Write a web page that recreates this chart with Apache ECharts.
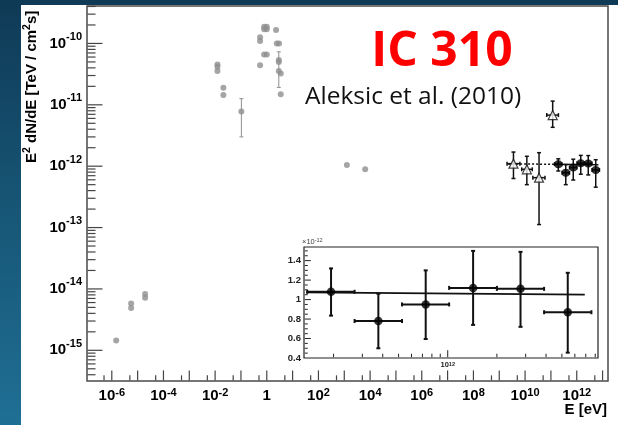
<!DOCTYPE html>
<html>
<head>
<meta charset="utf-8">
<script src="https://cdn.jsdelivr.net/npm/echarts@6/dist/echarts.min.js"></script>
<style>
  html, body { margin: 0; padding: 0; }
  #page {
    position: relative; width: 618px; height: 425px; overflow: hidden;
    background: linear-gradient(180deg, #0f3a56 0%, #175676 50%, #1f6f94 100%);
  }
  #paper { position: absolute; left: 21px; top: 5px; right: 0; bottom: 0; background: #ffffff; }
  #chart { position: absolute; left: 0; top: 0; width: 618px; height: 425px; }
</style>
</head>
<body>
<div id="page"><div id="paper"></div><div id="chart"></div></div>
<script>
// ---------- archival multi-wavelength points (E in eV, E^2 dN/dE in TeV cm^-2 s^-1) ----------
const grayE = [1.48e-6, 5.6e-6, 5.6e-6, 1.95e-5, 1.95e-5,
               0.0123, 0.0123, 0.0123, 0.0209, 0.0209, 0.104,
               0.55, 0.55, 0.55, 0.79, 1.0, 0.79, 1.0, 0.79, 1.0,
               2.29, 2.44, 2.99, 2.92, 2.92, 2.92, 3.47, 3.47,
               1259, 6460];
const grayF = [1.45e-15, 5.8e-15, 4.9e-15, 8.3e-15, 7.2e-15,
               4.55e-11, 4.16e-11, 3.57e-11, 1.9e-11, 1.45e-11, 7.8e-12,
               1.26e-10, 1.10e-10, 4.42e-11, 1.87e-10, 1.87e-10, 1.70e-10, 1.70e-10, 6.6e-11, 6.6e-11,
               1.65e-10, 1.0e-10, 1.0e-10, 5.35e-11, 5.0e-11, 3.57e-11, 3.24e-11, 1.49e-11,
               1.05e-12, 8.9e-13];
// archival points that carry error bars
const grayErrE  = [0.104, 2.92];
const grayErrF  = [7.8e-12, 3.57e-11];
const grayErrLo = [3.0e-12, 1.92e-11];
const grayErrHi = [1.26e-11, 7.3e-11];

// ---------- open triangles ----------
const triE   = [3.55e9, 1.17e10, 3.47e10, 1.17e11];
const triELo = [2.0e9, 7.4e9, 2.0e10, 6.9e10];
const triEHi = [6.3e9, 1.9e10, 5.9e10, 1.95e11];
const triF   = [1.10e-12, 8.9e-13, 6.5e-13, 6.8e-12];
const triFLo = [6.3e-13, 5.0e-13, 1.12e-13, 4.3e-12];
const triFHi = [1.70e-12, 1.45e-12, 1.66e-12, 1.15e-11];

// ---------- MAGIC spectrum (flux in units of 1e-12 TeV cm^-2 s^-1) ----------
const magicE   = [1.93e11, 3.76e11, 7.33e11, 1.43e12, 2.79e12, 5.43e12];
const magicELo = [1.38e11, 2.69e11, 5.25e11, 1.02e12, 2.00e12, 3.89e12];
const magicEHi = [2.69e11, 5.25e11, 1.02e12, 2.00e12, 3.89e12, 7.58e12];
const magicF   = [1.08, 0.78, 0.95, 1.12, 1.11, 0.87];
const magicFLo = [0.835, 0.50, 0.595, 0.74, 0.72, 0.455];
const magicFHi = [1.32, 1.06, 1.30, 1.50, 1.49, 1.275];
const fluxUnit = 1e-12;

// power-law fit and its extrapolation to lower energies (same flux units)
const fitE    = [1.36e11, 6.9e12];
const fitF    = [1.075, 1.051];
const fitExtE = [2.2e9, 1.36e11];
const fitExtF = [1.09, 1.075];

// ---------- axis labels ----------
const yLabelExp = [-15, -14, -13, -12, -11, -10];
const xLabelExp = [-6, -4, -2, 0, 2, 4, 6, 8, 10, 12, 13];
const insetYLabels = [0.4, 0.6, 0.8, 1, 1.2, 1.4];
const insetXLabelExp = [12];

// ---------- axis ranges (log10 of eV / flux) ----------
const X_MIN = -6.96, X_MAX = 13.21;
const Y_MIN = -15.5, Y_MAX = -9.39;
const IX_MIN = 11.12, IX_MAX = 12.92;
const IY_MIN = 0.4, IY_MAX = 1.54;

// ---------- tick marks as short segments in data space ----------
// rows share the error-bar layout: [x, y, yLow, yHigh, xLow, xHigh]
function hTick(x0, x1, y) { return [x0, y, y, y, x0, x1]; }   // tick on a vertical axis
function vTick(x, y0, y1) { return [x, y0, y0, y1, x, x]; }   // tick on a horizontal axis

const mainTicks = [];
const mx0 = X_MIN + 0.02, my0 = Y_MIN + 0.01;               // start just inside the frame
for (let n = -16; n <= -9; n++) {
  if (n >= Y_MIN && n <= Y_MAX) mainTicks.push(hTick(Math.pow(10, mx0), Math.pow(10, mx0 + 0.58), Math.pow(10, n)));
  for (let k = 2; k <= 9; k++) {
    const v = n + Math.log10(k);
    if (v > Y_MIN && v < Y_MAX) mainTicks.push(hTick(Math.pow(10, mx0), Math.pow(10, mx0 + 0.31), Math.pow(10, v)));
  }
}
for (let n = -7; n <= 13; n++) {
  if (n > X_MIN && n < X_MAX) mainTicks.push(vTick(Math.pow(10, n), Math.pow(10, my0), Math.pow(10, my0 + 0.163)));
  const v = n + Math.log10(5);
  if (v > X_MIN && v < X_MAX) mainTicks.push(vTick(Math.pow(10, v), Math.pow(10, my0), Math.pow(10, my0 + 0.082)));
}
const insetTicks = [];
const ix0 = IX_MIN + 0.005, iy0 = IY_MIN + 0.008;
for (let n = 11; n <= 12; n++) {
  for (let k = 1; k <= 9; k++) {
    const v = n + Math.log10(k);
    if (v > IX_MIN && v < IX_MAX) insetTicks.push(vTick(Math.pow(10, v), iy0, iy0 + (k === 1 ? 0.072 : 0.036)));
  }
}
for (let i = 1; i <= 22; i++) {
  const v = Math.round((0.4 + i * 0.05) * 100) / 100;
  if (v < IY_MAX) insetTicks.push(hTick(Math.pow(10, ix0), Math.pow(10, ix0 + (Math.round(v * 100) % 20 === 0 ? 0.037 : 0.018)), v));
}

// ---------- helpers ----------
const NARROW = "'Liberation Sans Narrow','Arial Narrow','Liberation Sans',Arial,sans-serif";
const SANS = "'Liberation Sans',Arial,sans-serif";
const TICK_COLOR = '#454545';

function errorBars(color, width, cap) {
  return function (params, api) {
    const x = api.value(0), y = api.value(1);
    const lo = api.value(2), hi = api.value(3), xl = api.value(4), xh = api.value(5);
    const top = api.coord([x, hi]), bot = api.coord([x, lo]);
    const style = { stroke: color, lineWidth: width };
    const kids = [];
    if (hi > lo) {
      kids.push({ type: 'line', shape: { x1: top[0], y1: top[1], x2: bot[0], y2: bot[1] }, style });
      if (cap > 0) {
        kids.push(
          { type: 'line', shape: { x1: top[0] - cap, y1: top[1], x2: top[0] + cap, y2: top[1] }, style },
          { type: 'line', shape: { x1: bot[0] - cap, y1: bot[1], x2: bot[0] + cap, y2: bot[1] }, style }
        );
      }
    }
    if (xh > xl) {
      const l = api.coord([xl, y]), r = api.coord([xh, y]);
      kids.push({ type: 'line', shape: { x1: l[0], y1: l[1], x2: r[0], y2: r[1] }, style });
      if (cap > 0) {
        kids.push(
          { type: 'line', shape: { x1: l[0], y1: l[1] - cap, x2: l[0], y2: l[1] + cap }, style },
          { type: 'line', shape: { x1: r[0], y1: r[1] - cap, x2: r[0], y2: r[1] + cap }, style }
        );
      }
    }
    return { type: 'group', children: kids };
  };
}

function supLabel(exp) {
  const n = Math.round(exp);
  return n === 0 ? '{b|1}' : '{b|10}{s|' + n + '}';
}

// ---------- data rows ----------
const grayData = grayE.map((e, i) => [e, grayF[i]]);
const grayErrData = grayErrE.map((e, i) => [e, grayErrF[i], grayErrLo[i], grayErrHi[i], e, e]);
const triData = triE.map((e, i) => [e, triF[i]]);
const triErrData = triE.map((e, i) => [e, triF[i], triFLo[i], triFHi[i], triELo[i], triEHi[i]]);
const magicMain = magicE.map((e, i) => [e, magicF[i] * fluxUnit]);
const magicMainErr = magicE.map((e, i) => [e, magicF[i] * fluxUnit, magicFLo[i] * fluxUnit, magicFHi[i] * fluxUnit, magicELo[i], magicEHi[i]]);
const magicInset = magicE.map((e, i) => [e, magicF[i]]);
const magicInsetErr = magicE.map((e, i) => [e, magicF[i], magicFLo[i], magicFHi[i], magicELo[i], magicEHi[i]]);

const chart = echarts.init(document.getElementById('chart'), null, { renderer: 'canvas' });

const noLine = { show: false, onZero: false };
const hidden = { show: false };
const option = {
  backgroundColor: 'transparent',
  animation: false,
  grid: [
    { left: 87, right: 10, top: 6, bottom: 44, show: true, borderColor: '#4a4a4a', borderWidth: 1.5, backgroundColor: 'transparent' },
    { left: 304, right: 20, top: 247, bottom: 67, show: true, borderColor: '#222', borderWidth: 1.2, backgroundColor: '#ffffff' }
  ],
  xAxis: [
    { type: 'log', gridIndex: 0, logBase: 10, min: Math.pow(10, X_MIN), max: Math.pow(10, X_MAX),
      axisLine: noLine, axisTick: hidden, axisLabel: hidden, splitLine: hidden },
    {
      type: 'value', gridIndex: 0, min: X_MIN, max: X_MAX, position: 'bottom',
      axisLine: noLine, splitLine: hidden, axisTick: hidden,
      axisLabel: {
        customValues: xLabelExp, margin: 6, formatter: supLabel,
        rich: {
          b: { fontSize: 15, fontWeight: 'bold', fontFamily: NARROW, lineHeight: 18, color: '#000' },
          s: { fontSize: 11, fontWeight: 'bold', fontFamily: NARROW, lineHeight: 11, verticalAlign: 'top', color: '#000' }
        }
      }
    },
    { type: 'log', gridIndex: 1, logBase: 10, min: Math.pow(10, IX_MIN), max: Math.pow(10, IX_MAX),
      axisLine: noLine, axisTick: hidden, axisLabel: hidden, splitLine: hidden },
    {
      type: 'value', gridIndex: 1, min: IX_MIN, max: IX_MAX, position: 'bottom',
      axisLine: noLine, splitLine: hidden, axisTick: hidden,
      axisLabel: {
        customValues: insetXLabelExp, margin: 3, formatter: supLabel,
        rich: {
          b: { fontSize: 7.5, fontWeight: 'bold', fontFamily: NARROW, lineHeight: 8, color: '#222' },
          s: { fontSize: 5.5, fontWeight: 'bold', fontFamily: NARROW, lineHeight: 5, verticalAlign: 'top', color: '#222' }
        }
      }
    }
  ],
  yAxis: [
    { type: 'log', gridIndex: 0, logBase: 10, min: Math.pow(10, Y_MIN), max: Math.pow(10, Y_MAX),
      axisLine: noLine, axisTick: hidden, axisLabel: hidden, splitLine: hidden },
    {
      type: 'value', gridIndex: 0, min: Y_MIN, max: Y_MAX, position: 'left',
      axisLine: noLine, splitLine: hidden, axisTick: hidden,
      axisLabel: {
        customValues: yLabelExp, margin: 5, formatter: supLabel,
        rich: {
          b: { fontSize: 15, fontWeight: 'bold', fontFamily: NARROW, lineHeight: 24, color: '#000' },
          s: { fontSize: 11, fontWeight: 'bold', fontFamily: NARROW, lineHeight: 11, verticalAlign: 'top', color: '#000' }
        }
      }
    },
    {
      type: 'value', gridIndex: 1, min: IY_MIN, max: IY_MAX, position: 'left',
      axisLine: noLine, splitLine: hidden, axisTick: hidden,
      axisLabel: {
        customValues: insetYLabels, margin: 3,
        formatter: v => String(Math.round(v * 10) / 10),
        fontSize: 9.5, fontWeight: 'bold', fontFamily: NARROW, color: '#222'
      }
    }
  ],
  series: [
    // axis tick marks
    { type: 'custom', xAxisIndex: 0, yAxisIndex: 0, data: mainTicks, encode: { x: 0, y: 1 },
      renderItem: errorBars(TICK_COLOR, 1.2, 0), z: 2 },
    { type: 'custom', xAxisIndex: 2, yAxisIndex: 2, data: insetTicks, encode: { x: 0, y: 1 },
      renderItem: errorBars('#222', 1, 0), z: 5 },
    // archival data
    { type: 'custom', xAxisIndex: 0, yAxisIndex: 0, data: grayErrData, encode: { x: 0, y: 1 },
      renderItem: errorBars('#8f8f8f', 1, 2), z: 2 },
    { type: 'scatter', xAxisIndex: 0, yAxisIndex: 0, data: grayData, symbol: 'circle', symbolSize: 6,
      itemStyle: { color: '#8f8f8f' }, z: 3 },
    // fit line with extrapolation
    { type: 'line', xAxisIndex: 0, yAxisIndex: 0, data: fitExtE.map((e, i) => [e, fitExtF[i] * fluxUnit]),
      showSymbol: false, lineStyle: { color: '#111', width: 1.5, type: [2, 2] }, z: 2 },
    { type: 'line', xAxisIndex: 0, yAxisIndex: 0, data: fitE.map((e, i) => [e, fitF[i] * fluxUnit]),
      showSymbol: false, lineStyle: { color: '#111', width: 1.5 }, z: 2 },
    // open triangles
    { type: 'custom', xAxisIndex: 0, yAxisIndex: 0, data: triErrData, encode: { x: 0, y: 1 },
      renderItem: errorBars('#111', 1.5, 2), z: 3 },
    { type: 'scatter', xAxisIndex: 0, yAxisIndex: 0, data: triData, symbol: 'triangle', symbolSize: 9,
      itemStyle: { color: '#ffffff', borderColor: '#111', borderWidth: 1.2 }, z: 4 },
    // MAGIC points
    { type: 'custom', xAxisIndex: 0, yAxisIndex: 0, data: magicMainErr, encode: { x: 0, y: 1 },
      renderItem: errorBars('#111', 1.5, 2), z: 3 },
    { type: 'scatter', xAxisIndex: 0, yAxisIndex: 0, data: magicMain, symbol: 'circle', symbolSize: 8,
      itemStyle: { color: '#000' }, z: 4 },
    // inset: MAGIC spectrum on linear flux scale
    { type: 'line', xAxisIndex: 2, yAxisIndex: 2, data: fitE.map((e, i) => [e, fitF[i]]),
      showSymbol: false, lineStyle: { color: '#111', width: 1.8 }, z: 5 },
    { type: 'custom', xAxisIndex: 2, yAxisIndex: 2, data: magicInsetErr, encode: { x: 0, y: 1 },
      renderItem: errorBars('#111', 2, 2), z: 6 },
    { type: 'scatter', xAxisIndex: 2, yAxisIndex: 2, data: magicInset, symbol: 'circle', symbolSize: 8.5,
      itemStyle: { color: '#000' }, z: 7 }
  ],
  graphic: [
    { type: 'text', x: 442, y: 52, z: 100,
      style: { text: 'IC 310', fill: '#ff0000', font: "bold 48px 'Open Sans', Lato, sans-serif", align: 'center', verticalAlign: 'middle', textAlign: 'center', textVerticalAlign: 'middle' } },
    { type: 'text', x: 305, y: 97, z: 100,
      style: { text: 'Aleksic et al. (2010)', fill: '#111', font: "24.5px 'Open Sans', Lato, sans-serif", align: 'left', verticalAlign: 'middle', textAlign: 'left', textVerticalAlign: 'middle' } },
    { type: 'text', x: 31.5, y: 163, rotation: Math.PI / 2, z: 100,
      style: {
        text: '{b|E}{s|2}{b| dN/dE [TeV / cm}{s|2}{b|s]}',
        align: 'left', verticalAlign: 'middle', textAlign: 'left', textVerticalAlign: 'middle',
        rich: {
          b: { fontSize: 15, fontWeight: 'bold', fontFamily: SANS, lineHeight: 20, fill: '#000', color: '#000' },
          s: { fontSize: 10.5, fontWeight: 'bold', fontFamily: SANS, lineHeight: 10, verticalAlign: 'top', fill: '#000', color: '#000' }
        }
      } },
    { type: 'text', x: 607, y: 409.5, z: 100,
      style: { text: 'E [eV]', fill: '#000', font: "bold 15px 'Liberation Sans', Arial, sans-serif", align: 'right', verticalAlign: 'middle', textAlign: 'right', textVerticalAlign: 'middle' } },
    { type: 'text', x: 302, y: 242, z: 100,
      style: {
        text: '{a|×10}{s|-12}',
        align: 'left', verticalAlign: 'middle', textAlign: 'left', textVerticalAlign: 'middle',
        rich: {
          a: { fontSize: 7.5, fontFamily: SANS, lineHeight: 10, fill: '#444', color: '#444' },
          s: { fontSize: 5.5, fontFamily: SANS, lineHeight: 5, verticalAlign: 'top', fill: '#444', color: '#444' }
        }
      } }
  ]
};

chart.setOption(option);
</script>
</body>
</html>
